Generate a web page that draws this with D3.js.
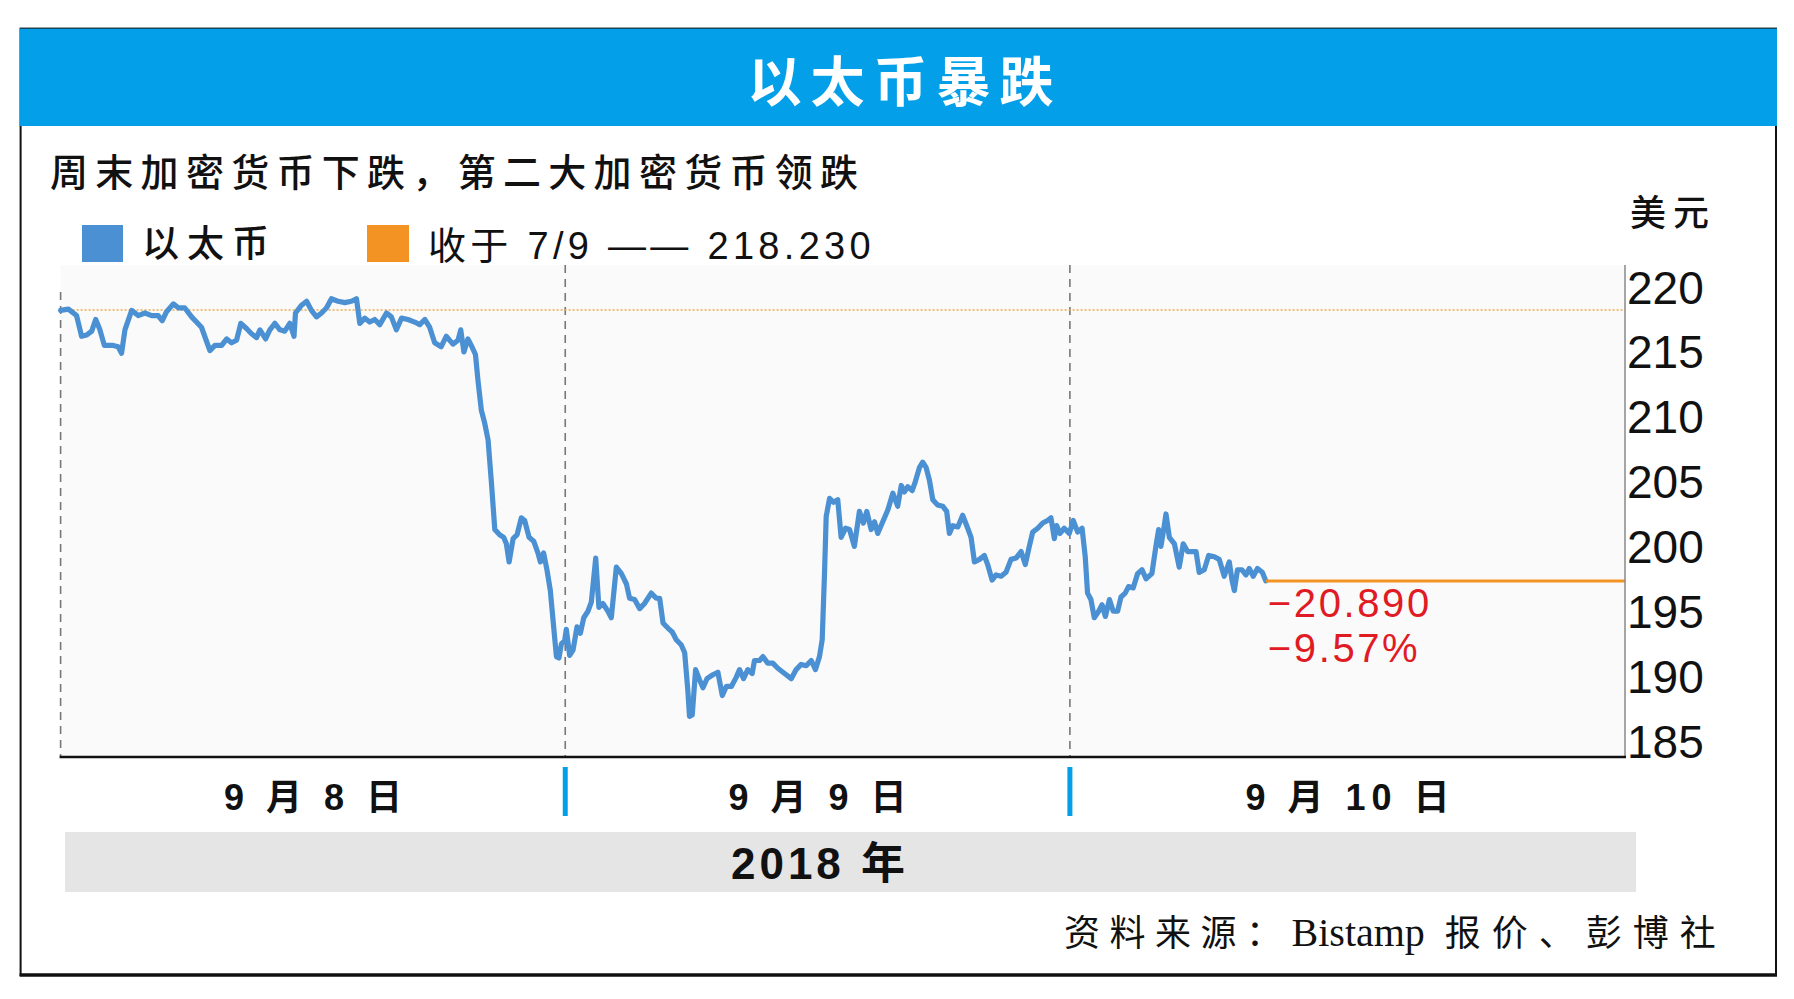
<!DOCTYPE html>
<html><head><meta charset="utf-8">
<script src="https://cdn.jsdelivr.net/npm/d3@7"></script>
<style>html,body{margin:0;padding:0;background:#fff;}svg{display:block}</style>
</head><body><svg id="c" width="1794" height="999"></svg>
<script>
// ---------- data ----------
const titleText = "以太币暴跌";
const subtitleText = "周末加密货币下跌，第二大加密货币领跌";
const seriesName = "以太币";
const refLabel = "收于 7/9 —— 218.230";
const unitLabel = "美元";
const dayLabels = ["9 月 8 日", "9 月 9 日", "9 月 10 日"];
const dayStarts = [0, 24, 48];           // hours since 9/8 00:00
const yearLabel = "2018 年";
const yTicks = [220, 215, 210, 205, 200, 195, 190, 185];
const closeRef = 218.23;                 // close on 7/9
const lastPrice = 197.34;
const changeLabels = ["\u221220.890", "\u22129.57%"];
const sourceCJK1 = "资料来源：";
const sourceLatin = "Bistamp";
const sourceCJK2 = "报价、彭博社";
// [hours since 9/8 00:00, price USD]
const ethPrice = [
[0.00,218.2],[0.37,218.3],[0.76,217.8],[1.00,216.2],[1.24,216.3],[1.48,216.6],[1.67,217.5],[1.87,216.7],[2.08,215.5],[2.50,215.5],[2.74,215.4],[2.90,214.9],[3.06,216.7],[3.38,218.2],[3.69,217.8],[4.01,218.0],[4.33,217.8],[4.64,217.8],[4.83,217.4],[5.04,218.1],[5.36,218.7],[5.60,218.4],[5.90,218.4],[6.23,217.7],[6.70,216.9],[7.10,215.1],[7.34,215.5],[7.66,215.5],[7.90,216.0],[8.13,215.7],[8.37,215.9],[8.57,217.2],[8.84,216.8],[9.08,216.4],[9.32,216.1],[9.48,216.7],[9.75,216.0],[9.95,216.7],[10.19,217.2],[10.43,216.7],[10.66,216.6],[10.90,217.2],[11.10,216.2],[11.17,218.0],[11.46,218.6],[11.70,218.9],[11.93,218.2],[12.17,217.7],[12.41,218.0],[12.65,218.4],[12.88,219.1],[13.20,218.9],[13.52,218.8],[13.83,218.9],[14.07,219.1],[14.23,217.2],[14.47,217.6],[14.70,217.3],[14.94,217.5],[15.18,217.1],[15.50,218.0],[15.73,217.7],[15.97,216.7],[16.21,217.6],[16.52,217.5],[16.84,217.3],[17.08,217.1],[17.32,217.5],[17.55,216.9],[17.79,215.7],[18.10,215.4],[18.34,216.2],[18.66,215.6],[18.90,215.9],[19.03,216.7],[19.18,215.0],[19.37,216.0],[19.53,215.5],[19.73,214.8],
[19.85,212.8],[20.01,210.5],[20.17,209.5],[20.33,208.2],[20.49,204.9],[20.65,201.3],[20.88,200.9],[21.07,200.7],[21.20,200.2],[21.33,198.8],[21.52,200.6],[21.71,200.9],[21.91,202.2],[22.07,202.0],[22.28,200.7],[22.50,200.4],[22.70,199.5],[22.82,198.8],[22.97,199.5],[23.13,198.2],[23.29,196.6],[23.42,194.3],[23.58,191.5],[23.70,191.4],[23.82,192.5],[23.97,192.7],[24.05,193.6],[24.21,191.6],[24.37,192.0],[24.56,193.8],[24.72,193.3],[24.88,194.5],[25.08,195.0],[25.24,195.7],[25.45,199.1],[25.60,195.3],[25.79,195.6],[26.03,195.0],[26.19,194.5],[26.43,198.4],[26.67,197.9],[26.91,197.1],[27.06,196.0],[27.30,195.9],[27.54,195.2],[27.77,195.6],[28.09,196.4],[28.33,196.0],[28.49,196.0],[28.65,194.1],[28.88,193.7],[29.09,193.4],[29.28,192.8],[29.52,192.4],[29.68,191.8],[29.83,188.9],[29.91,186.9],[30.04,187.0],[30.20,190.5],[30.39,189.7],[30.55,189.1],[30.74,189.8],[31.02,190.1],[31.26,190.3],[31.47,188.5],[31.66,189.2],[31.90,189.2],[32.13,189.9],
[32.29,190.5],[32.48,189.8],[32.68,190.5],[32.89,190.2],[33.00,191.2],[33.24,191.2],[33.40,191.5],[33.63,191.0],[33.87,191.0],[34.11,190.6],[34.43,190.2],[34.75,189.8],[34.98,190.5],[35.22,190.9],[35.46,190.8],[35.70,191.2],[35.90,190.5],[36.09,191.5],[36.22,192.8],[36.33,197.9],[36.41,202.3],[36.57,203.7],[36.76,203.4],[36.96,203.6],[37.12,200.7],[37.33,201.4],[37.52,201.3],[37.75,200.0],[37.99,202.7],[38.18,201.8],[38.34,202.7],[38.55,201.3],[38.71,201.9],[38.86,201.0],[39.10,201.9],[39.34,202.8],[39.58,204.1],[39.81,203.1],[39.98,204.7],[40.13,204.2],[40.29,204.6],[40.50,204.3],[40.65,205.0],[40.85,206.1],[41.00,206.5],[41.16,206.1],[41.32,205.1],[41.48,203.6],[41.71,203.2],[41.95,203.1],[42.14,202.7],[42.27,201.0],[42.43,201.6],[42.67,201.5],[42.90,202.4],[43.14,201.4],[43.30,200.7],[43.46,198.8],[43.70,199.0],[43.93,199.3],[44.09,198.6],[44.30,197.4],[44.49,197.8],[44.73,197.7],[44.96,198.0],[45.20,199.0],[45.44,199.1],[45.68,199.6],[45.88,198.6],[46.07,200.0],[46.23,201.1],[46.47,201.4],[46.71,201.8],[46.94,202.0],[47.10,202.2],[47.26,200.6],[47.37,201.6],[47.53,201.0],[47.73,201.4],
[47.97,201.0],[48.16,202.0],[48.37,201.1],[48.58,201.4],[48.73,199.2],[48.84,196.4],[49.00,195.9],[49.16,194.5],[49.37,195.0],[49.53,195.5],[49.69,194.6],[49.88,195.9],[50.06,195.0],[50.27,195.0],[50.43,196.1],[50.63,196.4],[50.79,196.9],[51.01,196.8],[51.22,197.9],[51.43,198.2],[51.62,197.5],[51.90,197.9],[52.09,200.0],[52.22,201.3],[52.33,200.0],[52.46,201.3],[52.57,202.5],[52.73,200.7],[52.97,200.2],[53.20,198.4],[53.39,200.2],[53.60,199.6],[53.84,199.6],[54.00,199.6],[54.15,198.0],[54.39,198.2],[54.60,199.3],[54.87,199.2],[55.10,199.0],[55.34,197.7],[55.58,198.8],[55.71,197.4],[55.82,196.6],[55.97,198.2],[56.18,198.2],[56.37,197.8],[56.53,198.3],[56.72,197.7],[56.92,198.3],[57.15,198.0],[57.32,197.34]
];

// ---------- layout ----------
const svg = d3.select("#c");
const CJK = "'Noto Sans CJK SC','Noto Sans',sans-serif";
const SANS = "'Liberation Sans','Noto Sans CJK SC',sans-serif";
const SERIF = "'Liberation Serif','DejaVu Serif','Noto Sans CJK SC',serif";
const BLUE = "#4a90d2", ORANGE = "#f39323", CYAN = "#039fe9", RED = "#e01b24";

const plot = {left: 60.6, right: 1625, top: 265, bottom: 757};
const x = d3.scaleLinear().domain([0, 74.4]).range([plot.left, plot.right]);
const y = d3.scaleLinear().domain([183.76, 221.7]).range([plot.bottom, plot.top]);

// frame
svg.append("rect").attr("x", 20.6).attr("y", 28.6).attr("width", 1776 - 20.6).attr("height", 975 - 28.6)
  .attr("fill", "#fff").attr("stroke", "#111").attr("stroke-width", 2);
svg.append("line").attr("x1", 19.6).attr("x2", 1777).attr("y1", 975).attr("y2", 975)
  .attr("stroke", "#111").attr("stroke-width", 3.5);
// title band
svg.append("rect").attr("x", 19.6).attr("y", 28.6).attr("width", 1777 - 19.6).attr("height", 126 - 28.6)
  .attr("fill", CYAN);
svg.append("text").attr("x", 900 + 5).attr("y", 102).attr("text-anchor", "middle")
  .attr("font-family", CJK).attr("font-weight", 700).attr("font-size", 54)
  .attr("letter-spacing", 9).attr("fill", "#fff").text(titleText);

// subtitle
svg.append("text").attr("x", 50).attr("y", 186)
  .attr("font-family", CJK).attr("font-weight", 500).attr("font-size", 38)
  .attr("letter-spacing", 7.3).attr("fill", "#111").text(subtitleText);

// legend
svg.append("rect").attr("x", 82).attr("y", 225).attr("width", 41).attr("height", 37).attr("fill", BLUE);
svg.append("text").attr("x", 142).attr("y", 257).attr("font-family", CJK).attr("font-weight", 500)
  .attr("font-size", 37).attr("letter-spacing", 8).attr("fill", "#111").text(seriesName);
svg.append("rect").attr("x", 367).attr("y", 225).attr("width", 42).attr("height", 37).attr("fill", ORANGE);
svg.append("text").attr("x", 428).attr("y", 259).attr("font-family", SANS)
  .attr("font-size", 38).attr("letter-spacing", 4.3).attr("fill", "#111").text(refLabel);

// unit
svg.append("text").attr("x", 1630).attr("y", 226).attr("font-family", CJK).attr("font-weight", 500)
  .attr("font-size", 36).attr("letter-spacing", 7).attr("fill", "#111").text(unitLabel);

// plot background
svg.append("rect").attr("x", plot.left).attr("y", plot.top)
  .attr("width", plot.right - plot.left).attr("height", plot.bottom - plot.top).attr("fill", "#fafafa");

// day dividers (dashed)
svg.selectAll("line.div").data(dayStarts).join("line").attr("class", "div")
  .attr("x1", d => x(d)).attr("x2", d => x(d))
  .attr("y1", (d, i) => i === 0 ? 292 : plot.top).attr("y2", plot.bottom)
  .attr("stroke", "#777").attr("stroke-width", 1.6).attr("stroke-dasharray", "8,6");

// reference dotted line
svg.append("line").attr("x1", plot.left).attr("x2", plot.right)
  .attr("y1", y(closeRef)).attr("y2", y(closeRef))
  .attr("stroke", "#f0a849").attr("stroke-width", 1.6).attr("stroke-dasharray", "2,2");

// price line
const line = d3.line().x(d => x(d[0])).y(d => y(d[1])).curve(d3.curveLinear);
svg.append("path").datum(ethPrice).attr("d", line).attr("fill", "none")
  .attr("stroke", BLUE).attr("stroke-width", 5.2).attr("stroke-linejoin", "round").attr("stroke-linecap", "round");

// last price orange line
const lastH = ethPrice[ethPrice.length - 1][0];
svg.append("line").attr("x1", x(lastH)).attr("x2", plot.right)
  .attr("y1", y(lastPrice)).attr("y2", y(lastPrice))
  .attr("stroke", ORANGE).attr("stroke-width", 3);

// right axis line & bottom axis
svg.append("line").attr("x1", plot.right).attr("x2", plot.right).attr("y1", plot.top).attr("y2", plot.bottom)
  .attr("stroke", "#888").attr("stroke-width", 1.5);
svg.append("line").attr("x1", plot.left - 1).attr("x2", plot.right + 1).attr("y1", plot.bottom).attr("y2", plot.bottom)
  .attr("stroke", "#111").attr("stroke-width", 2.5);

// y axis labels
const yAxis = d3.axisRight(y).tickValues(yTicks).tickSize(0).tickPadding(2).tickFormat(d3.format("d"));
const gy = svg.append("g").attr("transform", `translate(${plot.right},0)`).call(yAxis);
gy.select(".domain").remove();
gy.selectAll("text").attr("font-family", SANS).attr("font-size", 46).attr("fill", "#111").attr("dy", "0.35em");

// blue day ticks
svg.selectAll("line.dtick").data(dayStarts.slice(1)).join("line").attr("class", "dtick")
  .attr("x1", d => x(d)).attr("x2", d => x(d)).attr("y1", 767).attr("y2", 816)
  .attr("stroke", CYAN).attr("stroke-width", 5);

// day labels, centred between dividers
const bounds = dayStarts.concat([x.domain()[1]]);
svg.selectAll("text.day").data(dayLabels).join("text").attr("class", "day")
  .attr("x", (d, i) => (x(bounds[i]) + x(bounds[i + 1])) / 2 + 3)
  .attr("y", 810).attr("text-anchor", "middle")
  .attr("font-family", SANS).attr("font-weight", 700).attr("font-size", 36).attr("letter-spacing", 6)
  .attr("fill", "#111").text(d => d);

// year band
svg.append("rect").attr("x", 65).attr("y", 832).attr("width", 1636 - 65).attr("height", 60).attr("fill", "#e5e5e5");
svg.append("text").attr("x", 820).attr("y", 879).attr("text-anchor", "middle")
  .attr("font-family", SANS).attr("font-weight", 700).attr("font-size", 44).attr("letter-spacing", 4)
  .attr("fill", "#111").text(yearLabel);

// change labels
svg.selectAll("text.chg").data(changeLabels).join("text").attr("class", "chg")
  .attr("x", x(lastH) + 2).attr("y", (d, i) => i === 0 ? 617 : 662)
  .attr("font-family", SANS).attr("font-size", 40).attr("letter-spacing", 2.6)
  .attr("fill", RED).text(d => d);

// source
const src = svg.append("text").attr("x", 1064).attr("y", 946).attr("fill", "#111");
src.append("tspan").attr("font-family", CJK).attr("font-size", 36).attr("letter-spacing", 9.5).text(sourceCJK1);
src.append("tspan").attr("font-family", SERIF).attr("font-size", 40).attr("letter-spacing", 0).text(sourceLatin);
src.append("tspan").attr("dx", 20).attr("font-family", CJK).attr("font-size", 36).attr("letter-spacing", 11).text(sourceCJK2);
</script></body></html>
